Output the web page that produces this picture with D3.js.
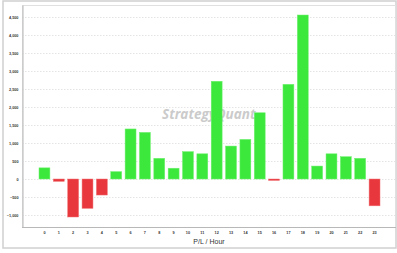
<!DOCTYPE html>
<html>
<head>
<meta charset="utf-8">
<script src="https://cdn.jsdelivr.net/npm/d3@7"></script>
<style>
  body { margin: 0; background: #fff; }
  svg { display: block; font-family: "DejaVu Sans", sans-serif; }
</style>
</head>
<body>
<div id="chart"></div>
<script>
// P/L per hour of day
const hours = d3.range(0, 24).map(String);
const profit = [310, -65, -1055, -815, -445, 205, 1390, 1295, 575, 300, 760, 700,
                2715, 915, 1100, 1840, -40, 2630, 4555, 360, 700, 620, 575, -745];
const yTicks = [-1000, -500, 0, 500, 1000, 1500, 2000, 2500, 3000, 3500, 4000, 4500];

const W = 397, H = 253;
const plot = { left: 22, right: 396, top: 5, bottom: 227 };

const svg = d3.select("#chart").append("svg")
  .attr("width", W)
  .attr("height", H);

// outer panel
svg.append("rect")
  .attr("x", 3).attr("y", 1)
  .attr("width", W - 4).attr("height", 247)
  .attr("fill", "#fff")
  .attr("stroke", "#d0d0d0")
  .attr("stroke-width", 1.5);

const x = d3.scaleBand()
  .domain(hours)
  .range([39, 380])
  .paddingInner(0.24);

const y = d3.scaleLinear()
  .domain([-1333, 4833])
  .range([plot.bottom, plot.top]);

// gridlines
svg.append("g")
  .selectAll("line")
  .data(yTicks)
  .join("line")
  .attr("x1", plot.left).attr("x2", plot.right)
  .attr("y1", d => Math.round(y(d)) + 0.5)
  .attr("y2", d => Math.round(y(d)) + 0.5)
  .attr("stroke", "#e4e4e4")
  .attr("stroke-dasharray", "1.5,1.5");

// watermark
svg.append("text")
  .attr("x", 162).attr("y", 119)
  .attr("font-family", "'Open Sans', sans-serif")
  .attr("font-style", "italic")
  .attr("font-weight", "bold")
  .attr("font-size", 13.5)
  .attr("fill", "#cbcbcb")
  .text("StrategyQuant");

// bars
svg.append("g")
  .selectAll("rect")
  .data(profit)
  .join("rect")
  .attr("x", (d, i) => x(hours[i]))
  .attr("width", x.bandwidth())
  .attr("y", d => y(Math.max(0, d)))
  .attr("height", d => Math.abs(y(d) - y(0)))
  .attr("fill", d => d >= 0 ? "#3de83d" : "#e8383d")
  .attr("stroke", d => d >= 0 ? "#6ef06e" : "#f07075")
  .attr("stroke-width", 0.5);

// plot frame
svg.append("rect")
  .attr("x", plot.left + 0.5).attr("y", plot.top + 0.5)
  .attr("width", plot.right - plot.left - 1)
  .attr("height", plot.bottom - plot.top)
  .attr("fill", "none")
  .attr("stroke", "#e0e0e0");

// axes
const yAxis = svg.append("g")
  .attr("transform", `translate(${plot.left + 0.5},0)`)
  .call(d3.axisLeft(y).tickValues(yTicks).tickSize(0).tickPadding(4).tickFormat(d3.format(",")));
yAxis.select(".domain").attr("stroke", "#b8b8b8");
yAxis.selectAll("text").attr("font-size", 3.8).attr("font-weight", "bold").attr("fill", "#333");

const xAxis = svg.append("g")
  .attr("transform", `translate(0,${plot.bottom + 0.5})`)
  .call(d3.axisBottom(x).tickSize(0).tickPadding(4));
xAxis.select(".domain").attr("d", `M${plot.left},0H${plot.right}`).attr("stroke", "#b8b8b8");
xAxis.selectAll("text").attr("font-size", 3.8).attr("font-weight", "bold").attr("fill", "#333");

svg.append("text")
  .attr("x", (plot.left + plot.right) / 2)
  .attr("y", 244)
  .attr("text-anchor", "middle")
  .attr("font-family", "'Liberation Sans', sans-serif")
  .attr("font-size", 7)
  .attr("fill", "#333")
  .text("P/L / Hour");
</script>
</body>
</html>
